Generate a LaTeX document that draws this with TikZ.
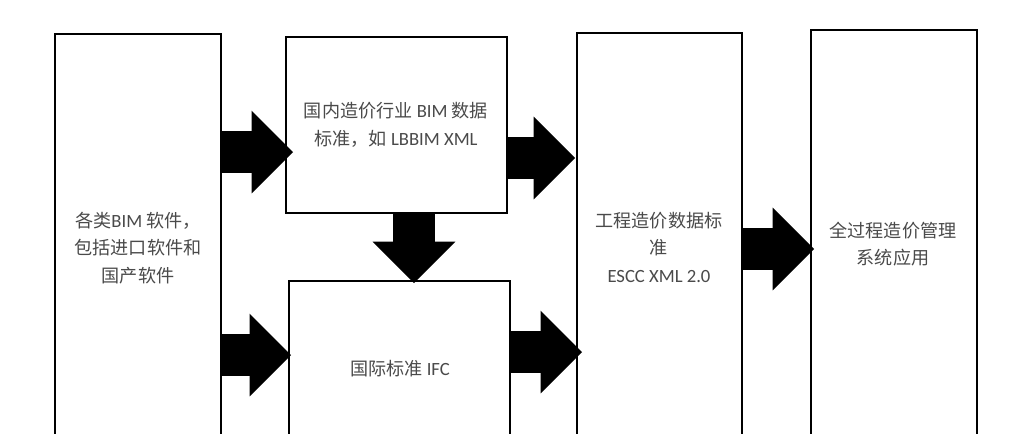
\documentclass[tikz,border=0pt]{standalone}
\usepackage{fontspec}
\setmainfont{Carlito}
\newfontfamily\cjk{Noto Sans CJK SC}[Scale=0.97]
\usetikzlibrary{arrows.meta}
\definecolor{txtgray}{HTML}{4A4A4A}
\tikzset{
  stdbox/.style={draw=black, line width=1.6, fill=white, anchor=north west, inner sep=0pt,
    text=txtgray, align=center, font=\fontsize{14pt}{20.6pt}\selectfont},
  blockarrow/.style={line width=31, black,
    -{Triangle[length=31, width=62, line width=0pt]}},
}
\begin{document}
\begin{tikzpicture}[x=0.75pt,y=-0.75pt]
\useasboundingbox (0,0) rectangle (1024,433);
\clip (0,0) rectangle (1024,433);
\fill[white] (0,0) rectangle (1024,433);
% boxes
\node[stdbox, minimum width=166*0.75pt, minimum height=440*0.75pt] (A) at (54,33) {};
\node[stdbox, minimum width=221*0.75pt, minimum height=176*0.75pt] (B) at (285,36) {};
\node[stdbox, minimum width=221*0.75pt, minimum height=180*0.75pt] (C) at (288,280) {};
\node[stdbox, minimum width=165*0.75pt, minimum height=440*0.75pt] (D) at (576,32) {};
\node[stdbox, minimum width=166*0.75pt, minimum height=440*0.75pt] (E) at (810,29) {};
% texts
\node[stdbox, draw=none, fill=none, anchor=center] (tA) at (138,248)
  {{\cjk 各类}BIM {\cjk 软件，}\\{\cjk 包括进口软件和}\\{\cjk 国产软件}};
\node[stdbox, draw=none, fill=none, anchor=center] (tB) at (396,125)
  {{\cjk 国内造价行业} BIM {\cjk 数据}\\{\cjk 标准，如} LBBIM XML};
\node[stdbox, draw=none, fill=none, anchor=center] (tC) at (400,369)
  {{\cjk 国际标准} IFC};
\node[stdbox, draw=none, fill=none, anchor=center] (tD) at (659,247)
  {{\cjk 工程造价数据标}\\{\cjk 准}\\ESCC XML 2.0};
\node[stdbox, draw=none, fill=none, anchor=center] (tE) at (893,244)
  {{\cjk 全过程造价管理}\\{\cjk 系统应用}};
% arrows
\coordinate (ab1) at (A.east |- 0,152);
\coordinate (ab2) at (293,152);
\draw[blockarrow] (ab1) -- (ab2);
\coordinate (ac1) at (A.east |- 0,355);
\coordinate (ac2) at (291,355);
\draw[blockarrow] (ac1) -- (ac2);
\coordinate (bc1) at (B.south -| 414,0);
\coordinate (bc2) at (414,283);
\draw[blockarrow] (bc1) -- (bc2);
\coordinate (bd1) at (B.east |- 0,158);
\coordinate (bd2) at (575,158);
\draw[blockarrow] (bd1) -- (bd2);
\coordinate (cd1) at (C.east |- 0,352);
\coordinate (cd2) at (582,352);
\draw[blockarrow] (cd1) -- (cd2);
\coordinate (de1) at (D.east |- 0,249);
\coordinate (de2) at (814,249);
\draw[blockarrow] (de1) -- (de2);
\end{tikzpicture}
\end{document}
